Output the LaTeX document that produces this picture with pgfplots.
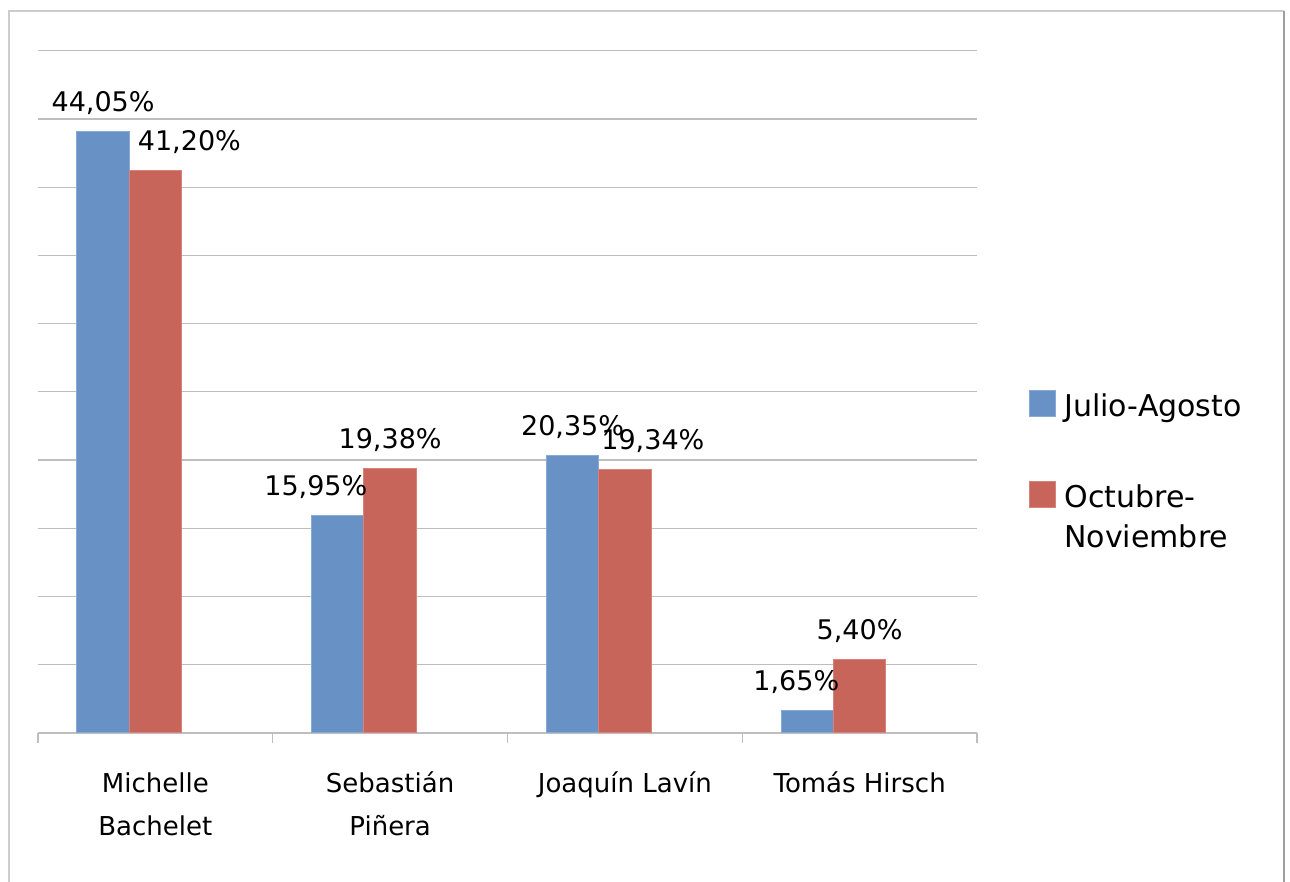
\documentclass[border=0pt]{standalone}
\usepackage{pgfplots}
\pgfplotsset{compat=1.18}
\usepackage{fontspec}
\setmainfont{DejaVu Sans}
\definecolor{barblue}{RGB}{104,145,198}
\definecolor{barblueedge}{RGB}{135,170,215}
\definecolor{barred}{RGB}{199,101,91}
\definecolor{barrededge}{RGB}{215,130,122}
\definecolor{gridgray}{RGB}{190,190,190}
\begin{document}
\begin{tikzpicture}
\begin{axis}[
  at={(19pt,74.5pt)}, anchor=south west,
  width=469.5pt, height=341.15pt, scale only axis,
  xmin=-0.5, xmax=3.5, ymin=0, ymax=50,
  axis x line*=bottom, axis y line*=left,
  y axis line style={draw=none},
  x axis line style={gridgray, line width=0.6pt},
  ytick={0,5,...,50}, yticklabels={}, ytick style={draw=none},
  ymajorgrids, grid style={gridgray, line width=0.6pt},
  xtick={0,1,2,3},
  xticklabels={{\rule{0pt}{11pt}Michelle\\Bachelet},{\rule{0pt}{11pt}Sebastián\\Piñera},{\rule{0pt}{11pt}Joaquín Lavín},{\rule{0pt}{11pt}Tomás Hirsch}},
  major x tick style={draw=none},
  minor xtick={-0.5,0.5,1.5,2.5,3.5},
  minor x tick style={gridgray, line width=0.6pt},
  xtick align=outside, minor tick length=5pt, major tick length=0pt,
  xticklabel style={font=\fontsize{13}{21.5}\selectfont, align=center, anchor=north, inner sep=0pt, yshift=-18.5pt},
  ybar, bar width=26.15pt,
  visualization depends on={\thisrow{dx} \as \dx},
  nodes near coords={\pgfmathprintnumber[fixed,fixed zerofill,precision=2,use comma,assume math mode=true]{\pgfplotspointmeta}\%},
  every node near coord/.append style={font=\fontsize{13.5}{16}\selectfont, anchor=base, inner sep=0pt, yshift=10pt, xshift=\dx pt, black},
  legend style={at={(1,0.504)}, anchor=north west, xshift=26pt, draw=none, fill=none, inner sep=0pt,
    row sep=31pt, column sep=4pt, font=\fontsize{15}{20}\selectfont,
    nodes={inner sep=0pt, align=left}, cells={anchor=base west}},
]
\addplot[fill=barblue, draw=barblueedge, line width=0.5pt, bar shift=-26.15pt,
  legend image code/.code={\filldraw[fill=barblue,draw=barblueedge,line width=0.5pt] (0pt,0pt) rectangle (13pt,13pt);}]
  table[x=x,y=y] {
x y dx
0 44.05 0
1 15.95 -11
2 20.35 0
3 1.65 -5.5
};
\addlegendentry{Julio-Agosto}
\addplot[fill=barred, draw=barrededge, line width=0.5pt, bar shift=0pt,
  legend image code/.code={\filldraw[fill=barred,draw=barrededge,line width=0.5pt] (0pt,20pt) rectangle (13pt,33pt);}]
  table[x=x,y=y] {
x y dx
0 41.20 17
1 19.38 0
2 19.34 14
3 5.40 0
};
\addlegendentry{Octubre-\\Noviembre}
\end{axis}
\draw[color=gray!40, line width=0.8pt] (4.5pt,0pt) -- (4.5pt,435.5pt) -- (642pt,435.5pt);
\draw[color=gray!75, line width=0.8pt] (642pt,435.5pt) -- (642pt,0pt);
\pgfresetboundingbox
\path[use as bounding box] (0pt,0pt) rectangle (645pt,441pt);
\end{tikzpicture}
\end{document}
